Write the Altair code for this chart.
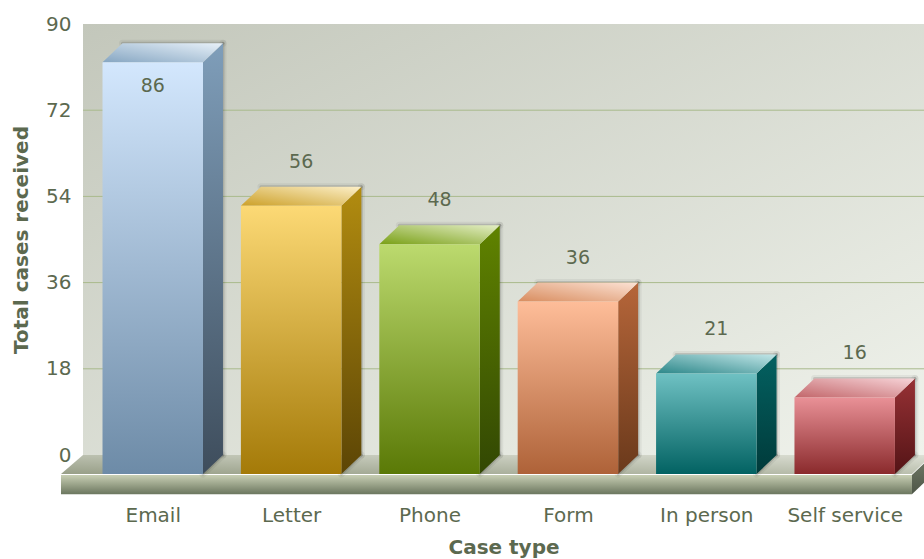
import json
import altair as alt
import pandas as pd

# Chart content
categories = ["Email", "Letter", "Phone", "Form", "In person", "Self service"]
cases = [86, 56, 48, 36, 21, 16]
y_ticks = [0, 18, 36, 54, 72, 90]
grid_values = [18, 36, 54, 72]

# Per-column colours: front (top, bottom), side (top, bottom), lid (near, far)
front_colors = [("#D3E7FD", "#6D8BA7"), ("#FCD975", "#A47A08"), ("#BCDA6E", "#5A7906"),
                ("#FEBD99", "#AE6238"), ("#6FC1C3", "#026262"), ("#E99197", "#8A2A2C")]
side_colors = [("#7F9EBA", "#3E4D5C"), ("#B28C10", "#5C4505"), ("#608300", "#324703"),
               ("#B6663A", "#6A391B"), ("#036161", "#003A3A"), ("#973135", "#541416")]
lid_colors = [("#86A6C2", "#E8F1F9"), ("#CCA028", "#FCEFC8"), ("#79A016", "#E4EEC6"),
              ("#D88C5E", "#FCE2D4"), ("#2C8789", "#C2E6E8"), ("#C2666A", "#F7D4D8")]

# Extrusion geometry, in scale units (one x unit is one category step)
HALF_WIDTH = 0.363
DEPTH_X = 0.1445
DEPTH_Y = 3.97
X_MIN, X_MAX = -0.504, 5.573
FLOOR_LEFT, FLOOR_RIGHT = X_MIN - 0.159, 5.486
SLAB_HEIGHT = 4.2
TEXT = "#5C694F"
FONT = "DejaVu Sans"

x_scale = alt.Scale(domain=[X_MIN, X_MAX], nice=False, zero=False)
y_scale = alt.Scale(domain=[0, 90], nice=False, zero=False)
X_NONE = alt.X("x:Q", scale=x_scale, axis=None)
Y_NONE = alt.Y("y:Q", scale=y_scale, axis=None)


def gradient(stops, x1=0, y1=0, x2=0, y2=1):
    return alt.LinearGradient(
        gradient="linear", x1=x1, y1=y1, x2=x2, y2=y2,
        stops=[alt.GradientStop(color=c, offset=o) for o, c in stops],
    )


def vertical_face(rows, fill):
    """Parallelogram whose left and right edges are vertical."""
    return alt.Chart(pd.DataFrame(rows)).mark_area(fill=fill).encode(
        x=X_NONE, y=Y_NONE, y2="y2:Q")


def horizontal_face(rows, fill):
    """Parallelogram whose top and bottom edges are horizontal."""
    return alt.Chart(pd.DataFrame(rows)).mark_area(fill=fill, orient="horizontal").encode(
        y=Y_NONE, x=X_NONE, x2="x2:Q")


def box(rows, fill):
    return alt.Chart(pd.DataFrame(rows)).mark_rect(fill=fill).encode(
        x=X_NONE, x2="x2:Q", y=Y_NONE, y2="y2:Q")


def edge_shadow(rows, width, opacity):
    """Soft dark line along the back edges of a column."""
    return alt.Chart(pd.DataFrame(rows)).mark_rule(
        color="#000000", strokeWidth=width, opacity=opacity, strokeCap="round"
    ).encode(x=X_NONE, x2="x2:Q", y=Y_NONE, y2="y2:Q")


# Back wall, which also carries both axes
wall = alt.Chart(pd.DataFrame([{"x": X_MIN, "x2": X_MAX, "y": 0, "y2": 90}])).mark_rect(
    fill=gradient([(0, "#C3C7BB"), (1, "#F0F3EC")], 0, 0, 1, 1)
).encode(
    x=alt.X("x:Q", scale=x_scale, axis=alt.Axis(
        values=list(range(len(categories))),
        labelExpr=f"{json.dumps(categories)}[datum.value]",
        title="Case type", grid=False, domain=False, ticks=False,
        labelPadding=50, labelFontSize=20, labelColor=TEXT, labelFont=FONT,
        titleFontSize=20, titleColor=TEXT, titleFont=FONT, titleFontWeight="bold",
        titlePadding=12, labelOverlap=False, labelFlush=False)),
    x2="x2:Q",
    y=alt.Y("y:Q", scale=y_scale, axis=alt.Axis(
        values=y_ticks, title="Total cases received", grid=False, domain=False, ticks=False,
        labelPadding=12, labelFontSize=20, labelColor=TEXT, labelFont=FONT,
        titleFontSize=20, titleColor=TEXT, titleFont=FONT, titleFontWeight="bold",
        titlePadding=14, labelOverlap=False, labelFlush=False)),
    y2="y2:Q",
)

grid = alt.Chart(pd.DataFrame({"y": grid_values})).mark_rule(
    color="#A9BA8C", strokeWidth=1
).encode(y=Y_NONE)

# Floor: sloping top, front slab and right-hand end
floor_top = horizontal_face(
    [{"y": 0, "x": X_MIN, "x2": FLOOR_RIGHT + DEPTH_X},
     {"y": -DEPTH_Y, "x": FLOOR_LEFT, "x2": FLOOR_RIGHT}],
    gradient([(0, "#989F88"), (1, "#DDE0D5")], 0, 1, 1, 0))
slab = box([{"x": FLOOR_LEFT, "x2": FLOOR_RIGHT, "y": -DEPTH_Y - 0.2, "y2": -DEPTH_Y - SLAB_HEIGHT}],
           gradient([(0, "#C8CFB4"), (1, "#6C775F")]))
slab_end = vertical_face(
    [{"x": FLOOR_RIGHT, "y": -DEPTH_Y - 0.2, "y2": -DEPTH_Y - SLAB_HEIGHT},
     {"x": FLOOR_RIGHT + DEPTH_X, "y": -0.2, "y2": -SLAB_HEIGHT}],
    gradient([(0, "#727B68"), (1, "#4E5647")]))

layers = [wall, grid, floor_top, slab, slab_end]

for i, value in enumerate(cases):
    left, right = i - HALF_WIDTH, i + HALF_WIDTH
    front_top = value - DEPTH_Y
    back_top = value
    side_rows = [{"x": right, "y": front_top, "y2": -DEPTH_Y},
                 {"x": right + DEPTH_X, "y": back_top, "y2": 0}]
    lid_rows = [{"y": front_top, "x": left, "x2": right},
                {"y": back_top, "x": left + DEPTH_X, "x2": right + DEPTH_X}]
    back_edges = [
        {"x": left + DEPTH_X, "x2": right + DEPTH_X, "y": back_top, "y2": back_top},
        {"x": right + DEPTH_X, "x2": right + DEPTH_X, "y": back_top, "y2": 0},
        {"x": right + DEPTH_X, "x2": right, "y": 0, "y2": -DEPTH_Y},
    ]
    layers.append(edge_shadow(back_edges, 7, 0.05))
    layers.append(edge_shadow(back_edges, 3, 0.13))
    layers.append(vertical_face(side_rows, gradient(list(enumerate(side_colors[i])))))
    layers.append(horizontal_face(lid_rows, gradient(list(enumerate(lid_colors[i])), 0, 1, 1, 0)))
    layers.append(box([{"x": left, "x2": right, "y": front_top, "y2": -DEPTH_Y}],
                      gradient(list(enumerate(front_colors[i])))))

# Value labels float above the column, or drop inside when there is no headroom
label_rows = []
for i, value in enumerate(cases):
    inside = value + 4 > 86
    label_rows.append({
        "x": i if inside else i + DEPTH_X / 2,
        "y": value - DEPTH_Y + (-5.0 if inside else 9.2),
        "value": value,
    })
labels = alt.Chart(pd.DataFrame(label_rows)).mark_text(
    font=FONT, fontSize=19, color=TEXT, baseline="middle", align="center"
).encode(x=X_NONE, y=Y_NONE, text="value:Q")
layers.append(labels)

chart = alt.layer(*layers).resolve_axis(x="independent", y="independent").properties(
    width=841, height=431, background="#FFFFFF",
    padding={"left": 83, "top": 24, "right": 0, "bottom": 104},
    autosize=alt.AutoSizeParams(type="none"),
).configure_view(stroke=None)

chart.save("out.html", embed_options={"renderer": "svg", "actions": False})
